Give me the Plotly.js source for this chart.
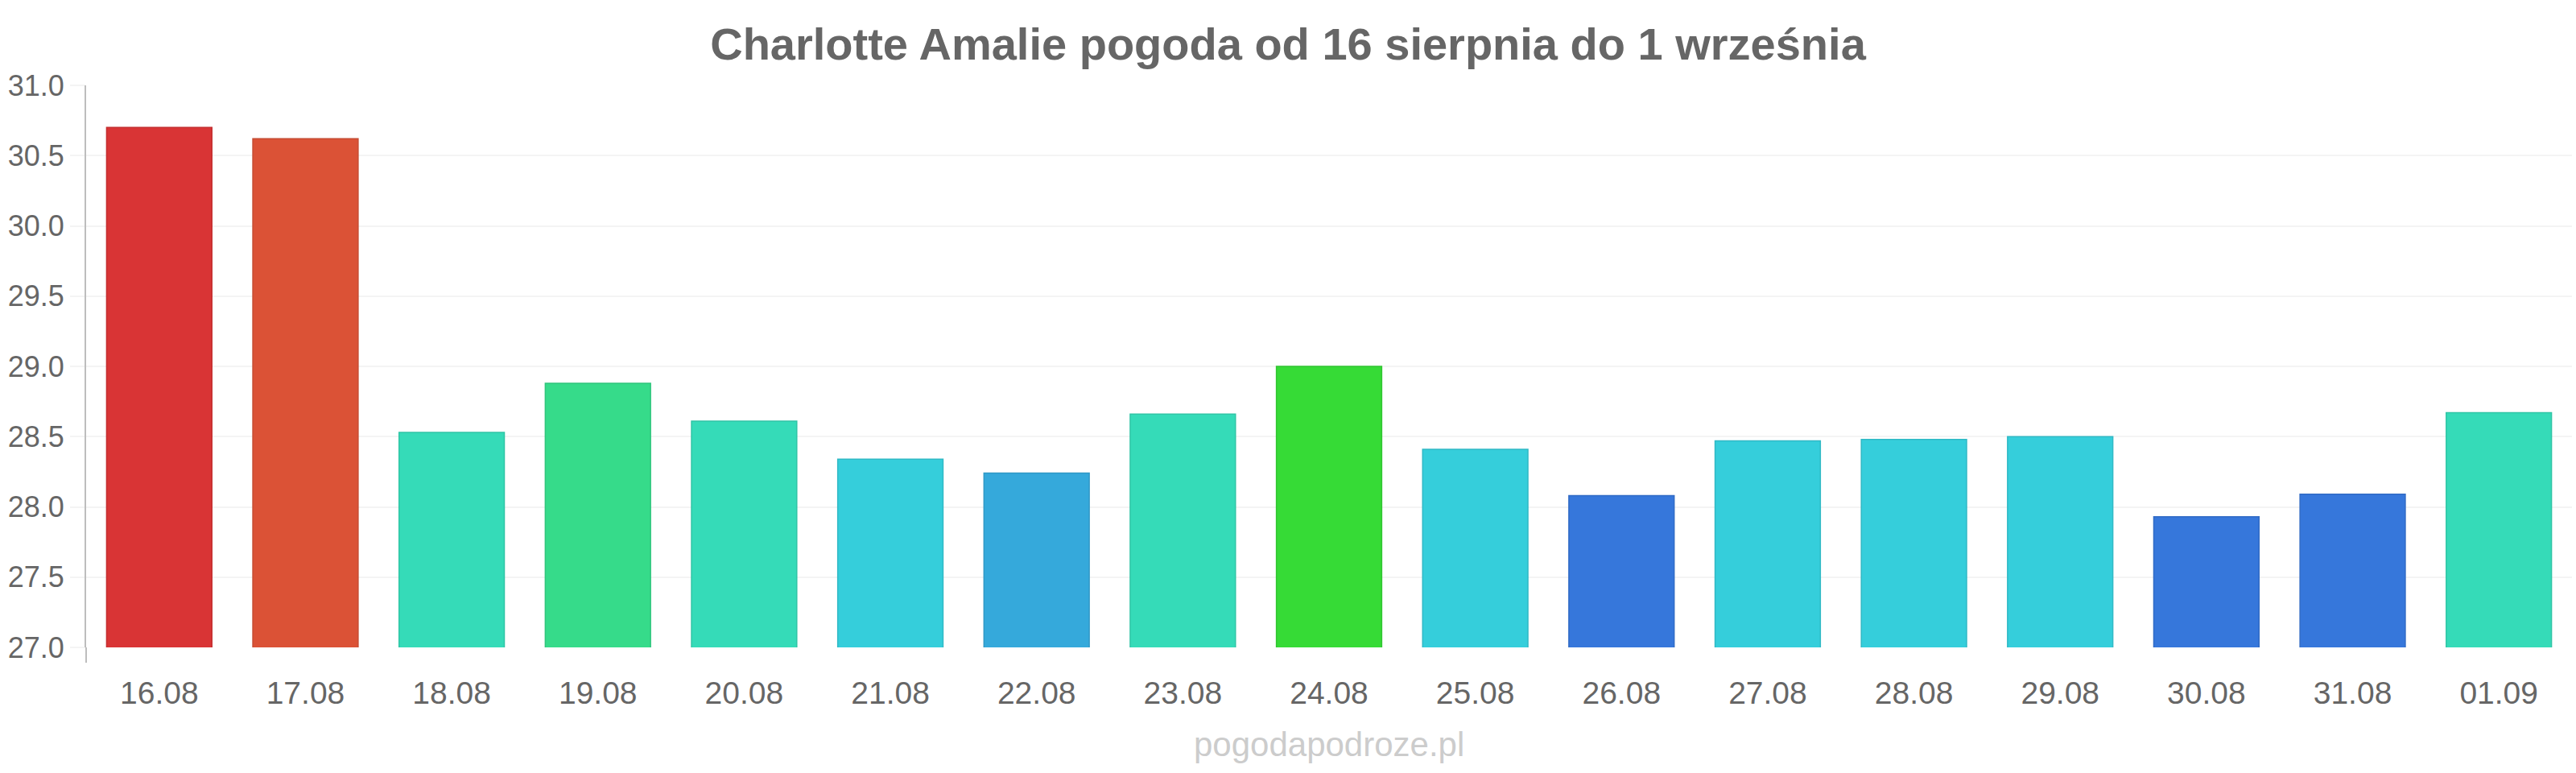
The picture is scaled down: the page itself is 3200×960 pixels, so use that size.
<!DOCTYPE html>
<html>
<head>
<meta charset="utf-8">
<script src="https://cdn.plot.ly/plotly-3.0.1.min.js"></script>
<style>
  html, body { margin: 0; padding: 0; background: #fff; }
  #chart { width: 3200px; height: 960px; }
</style>
</head>
<body>
<div id="chart"></div>
<script>
// days shown on the x axis
let days = ['16.08', '17.08', '18.08', '19.08', '20.08', '21.08', '22.08', '23.08', '24.08',
            '25.08', '26.08', '27.08', '28.08', '29.08', '30.08', '31.08', '01.09'];

// max temperature per day
let temps = [30.70, 30.62, 28.53, 28.88, 28.61, 28.34, 28.24, 28.66, 29.00,
             28.41, 28.08, 28.47, 28.48, 28.50, 27.93, 28.09, 28.67];

let yTicks = [27.0, 27.5, 28.0, 28.5, 29.0, 29.5, 30.0, 30.5, 31.0];

let titleText = 'Charlotte Amalie pogoda od 16 sierpnia do 1 września';
let siteText = 'pogodapodroze.pl';

// bar colours, one per day
let barColors = ['#d93435', '#db5236', '#35dbb8', '#36db8a', '#35dbb8', '#35cedb', '#35a9db', '#35dbb8', '#36db36',
                 '#35cedb', '#3677db', '#35cedb', '#35cedb', '#35cedb', '#3677db', '#3677db', '#35dbb8'];
let barEdges = ['#c42e30', '#c54a31', '#30c5a6', '#31c57c', '#30c5a6', '#30b9c5', '#3098c5', '#30c5a6', '#31c531',
                '#30b9c5', '#316bc5', '#30b9c5', '#30b9c5', '#30b9c5', '#316bc5', '#316bc5', '#30c5a6'];

let trace = {
  type: 'bar',
  x: days,
  y: temps,
  marker: {
    color: barColors,
    line: {color: barEdges, width: 1.5}
  },
  hoverinfo: 'x+y'
};

let layout = {
  width: 3200,
  height: 960,
  margin: {l: 107, r: 5, t: 106, b: 156},
  paper_bgcolor: '#fff',
  plot_bgcolor: '#fff',
  font: {family: '"Liberation Sans", Arial, sans-serif', color: '#666'},
  title: {
    text: '<b>' + titleText + '</b>',
    font: {size: 56, color: '#666'},
    x: 0.5, xref: 'container', xanchor: 'center',
    y: 1 - 54 / 960, yref: 'container', yanchor: 'middle'
  },
  showlegend: false,
  bargap: 0.28,
  xaxis: {
    type: 'category',
    tickfont: {size: 39, color: '#666'},
    ticks: 'outside',
    ticklen: 22,
    tickcolor: 'rgba(0,0,0,0)',
    showgrid: false,
    showline: false,
    zeroline: false,
    fixedrange: true
  },
  yaxis: {
    range: [27, 31],
    tickvals: yTicks,
    ticktext: yTicks.map(v => v.toFixed(1)),
    tickfont: {size: 36, color: '#666'},
    ticks: 'outside',
    ticklen: 18,
    tickwidth: 2,
    tickcolor: '#f4f4f4',
    gridcolor: '#f4f4f4',
    gridwidth: 2,
    showline: true,
    linecolor: '#bdbdbd',
    linewidth: 2,
    zeroline: false,
    fixedrange: true
  },
  shapes: [{
    // axis line running a little below the plot, like the source chart
    type: 'line', xref: 'paper', yref: 'paper',
    x0: 0, x1: 0, y0: 0, y1: -19 / 698,
    line: {color: '#bdbdbd', width: 2}
  }],
  annotations: [{
    text: siteText,
    xref: 'paper', yref: 'paper',
    x: 0.5, y: -120 / 698,
    xanchor: 'center', yanchor: 'middle',
    showarrow: false,
    font: {size: 42, color: '#cccccc'}
  }]
};

Plotly.newPlot('chart', [trace], layout, {displayModeBar: false, staticPlot: true});
</script>
</body>
</html>
